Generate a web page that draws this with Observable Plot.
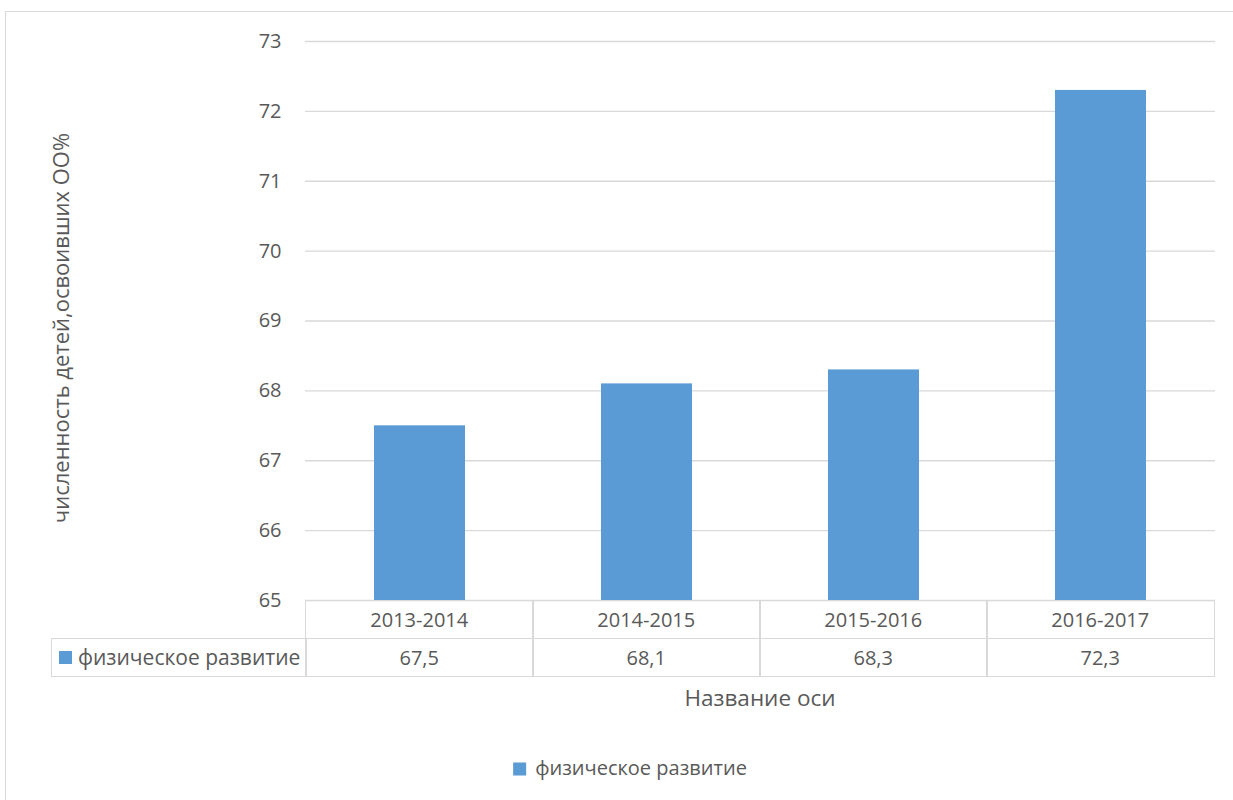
<!DOCTYPE html>
<html><head><meta charset="utf-8">
<script src="https://cdn.jsdelivr.net/npm/d3@7"></script>
<script src="https://cdn.jsdelivr.net/npm/@observablehq/plot@0.6"></script>
<style>
body{margin:0;background:#fff;font-family:"Open Sans",sans-serif;color:#595959;}
#wrap{position:relative;width:1233px;height:800px;overflow:hidden;}
#frame{position:absolute;left:5px;top:11px;width:1240px;height:800px;border:1.5px solid #d9d9d9;box-sizing:border-box;}
#chart{position:absolute;left:0;top:0;}
.cell{position:absolute;box-sizing:border-box;display:flex;align-items:center;justify-content:center;font-size:20px;color:#595959;white-space:nowrap;}
.key{display:inline-block;width:13px;height:13px;background:#5B9BD5;margin-right:6px;}
.txt{position:absolute;font-size:20px;color:#595959;white-space:nowrap;}
</style></head>
<body><div id="wrap"><div id="frame"></div><div id="chart"></div></div>
<script>
const categories = ["2013-2014","2014-2015","2015-2016","2016-2017"];
const values = [67.5, 68.1, 68.3, 72.3];
const valueLabels = ["67,5","68,1","68,3","72,3"];
const yTicks = [65,66,67,68,69,70,71,72,73];
const seriesName = "физическое развитие";
const yTitle = "численность детей,освоивших ОО%";
const xTitle = "Название оси";

const data = categories.map((c,i)=>({cat:c, value:values[i]}));
const color = "#5B9BD5";
const wrap = document.getElementById("wrap");

const chart = Plot.plot({
  width: 1233, height: 601,
  marginTop: 41, marginBottom: 1, marginLeft: 305, marginRight: 18,
  style: {fontFamily: '"Open Sans", sans-serif', fontSize: "20px", color: "#595959", background: "transparent", overflow: "visible"},
  x: {domain: categories, paddingInner: 0.6, paddingOuter: 0.3, axis: null},
  y: {domain: [yTicks[0], yTicks[yTicks.length-1]], ticks: yTicks},
  marks: [
    Plot.gridY(yTicks, {stroke: "#d9d9d9", strokeOpacity: 1, strokeWidth: 1.3}),
    Plot.barY(data, {x: "cat", y1: () => yTicks[0], y2: "value", fill: color}),
    Plot.axisY(yTicks, {tickSize: 0, tickPadding: 24, fill: "#595959", fontSize: 20, label: null, tickFormat: d => String(d)})
  ]
});
document.getElementById("chart").appendChild(chart);

// data table below the axis, aligned with the band scale
const xs = chart.scale("x");
const step = xs.step;
const x0 = 305;
const rowTop = 600, rowH = 37.5;
const bc = "1.5px solid #d9d9d9";
function cell(left, top, w, h, html, extra){
  const d = document.createElement("div");
  d.className = "cell";
  Object.assign(d.style, {left:left+"px", top:top+"px", width:w+"px", height:h+"px", border:bc}, extra||{});
  d.innerHTML = html;
  wrap.appendChild(d);
  return d;
}
categories.forEach((c,i)=>{
  const l = x0 + i*step;
  cell(l, rowTop, step+1.5, rowH+1.5, c);
  cell(l, rowTop+rowH, step+1.5, rowH+1.5, valueLabels[i]);
});
cell(51, rowTop+rowH, x0-51+1.5, rowH+1.5, `<span class="key"></span>${seriesName}`, {justifyContent:"flex-start", paddingLeft:"7px", fontSize:"21px"});

// axis titles
const yt = document.createElement("div");
yt.className = "txt"; yt.textContent = yTitle;
Object.assign(yt.style, {left:"60px", top:"328px", transform:"translate(-50%,-50%) rotate(-90deg)", fontSize:"22px"});
wrap.appendChild(yt);
const xt = document.createElement("div");
xt.className = "txt"; xt.textContent = xTitle;
Object.assign(xt.style, {left:"760px", top:"697px", transform:"translate(-50%,-50%)", fontSize:"22.5px"});
wrap.appendChild(xt);

// legend
const lg = document.createElement("div");
lg.className = "txt";
lg.innerHTML = `<span class="key" style="vertical-align:-1px;margin-right:9px"></span>${seriesName}`;
Object.assign(lg.style, {left:"630px", top:"767px", transform:"translate(-50%,-50%)", fontSize:"20px"});
wrap.appendChild(lg);
</script></body></html>
